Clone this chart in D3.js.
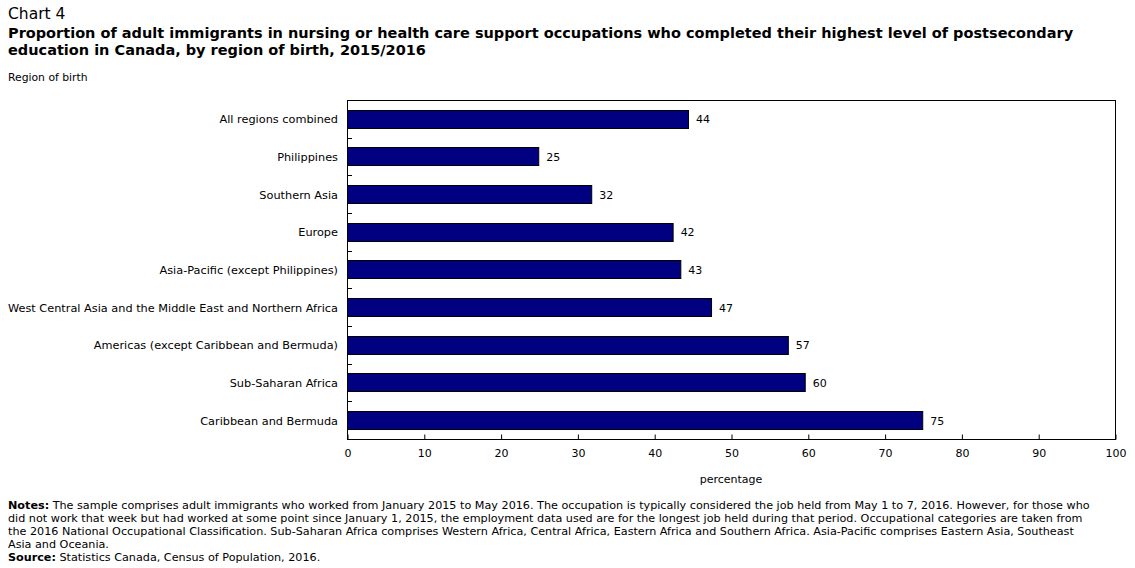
<!DOCTYPE html>
<html>
<head>
<meta charset="utf-8">
<script src="https://cdn.jsdelivr.net/npm/d3@7"></script>
<style>
  body { margin: 0; background: #fff; }
  svg { display: block; font-family: "DejaVu Sans", Verdana, sans-serif; }
</style>
</head>
<body>
<script>
// Chart data
var regions = [
  'All regions combined',
  'Philippines',
  'Southern Asia',
  'Europe',
  'Asia-Pacific (except Philippines)',
  'West Central Asia and the Middle East and Northern Africa',
  'Americas (except Caribbean and Bermuda)',
  'Sub-Saharan Africa',
  'Caribbean and Bermuda'
];
var percents = [44.4, 24.9, 31.8, 42.4, 43.4, 47.4, 57.4, 59.6, 74.9];
var xTicks = [0, 10, 20, 30, 40, 50, 60, 70, 80, 90, 100];

var notesLines = [
  [['Notes:', true], [' The sample comprises adult immigrants who worked from January 2015 to May 2016. The occupation is typically considered the job held from May 1 to 7, 2016. However, for those who', false]],
  [['did not work that week but had worked at some point since January 1, 2015, the employment data used are for the longest job held during that period. Occupational categories are taken from', false]],
  [['the 2016 National Occupational Classification. Sub-Saharan Africa comprises Western Africa, Central Africa, Eastern Africa and Southern Africa. Asia-Pacific comprises Eastern Asia, Southeast', false]],
  [['Asia and Oceania.', false]],
  [['Source:', true], [' Statistics Canada, Census of Population, 2016.', false]]
];

var svgWidth = 1135;
var svgHeight = 568;

var margin = { top: 100, right: 20, bottom: 129, left: 347 };
var chartWidth = svgWidth - margin.left - margin.right;
var chartHeight = svgHeight - margin.top - margin.bottom;

var svg = d3.select('body').append('svg')
  .attr('width', svgWidth)
  .attr('height', svgHeight);

// Titles
svg.append('text')
  .attr('x', 8).attr('y', 19)
  .attr('font-size', 15.5)
  .text('Chart 4');

var titleLines = [
  'Proportion of adult immigrants in nursing or health care support occupations who completed their highest level of postsecondary',
  'education in Canada, by region of birth, 2015/2016'
];
svg.selectAll('text.title')
  .data(titleLines)
  .enter()
  .append('text')
  .attr('class', 'title')
  .attr('x', 8)
  .attr('y', function(d, i) { return 38 + i * 17; })
  .attr('font-size', 14.5)
  .attr('font-weight', 'bold')
  .text(function(d) { return d; });

svg.append('text')
  .attr('x', 8).attr('y', 81)
  .attr('font-size', 10.8)
  .text('Region of birth');

var chart = svg.append('g')
  .attr('transform', `translate(${margin.left}, ${margin.top})`);

var xScale = d3.scaleLinear()
  .domain([0, 100])
  .range([0, chartWidth]);

var yScale = d3.scaleBand()
  .domain(regions)
  .range([0, chartHeight])
  .paddingInner(0.52)
  .paddingOuter(0.26);

// Bars
chart.selectAll('rect.bar')
  .data(percents)
  .enter()
  .append('rect')
  .attr('class', 'bar')
  .attr('x', 0.5)
  .attr('y', function(d, i) { return Math.round(yScale(regions[i])) + 0.5; })
  .attr('width', function(d) { return xScale(d); })
  .attr('height', Math.round(yScale.bandwidth()))
  .attr('fill', '#000080')
  .attr('stroke', '#000')
  .attr('stroke-width', 1);

// Value labels
chart.selectAll('text.value')
  .data(percents)
  .enter()
  .append('text')
  .attr('class', 'value')
  .attr('x', function(d) { return xScale(d) + 8; })
  .attr('y', function(d, i) { return yScale(regions[i]) + yScale.bandwidth() / 2 + 4.5; })
  .attr('font-size', 11)
  .text(function(d) { return Math.round(d); });

// Category boundary ticks on the left axis
chart.selectAll('line.ytick')
  .data(d3.range(1, regions.length + 1))
  .enter()
  .append('line')
  .attr('class', 'ytick')
  .attr('x1', 0).attr('x2', 5)
  .attr('y1', function(i) { return Math.round(i * chartHeight / regions.length) + 0.5; })
  .attr('y2', function(i) { return Math.round(i * chartHeight / regions.length) + 0.5; })
  .attr('stroke', '#000');

// Category labels
chart.selectAll('text.cat')
  .data(regions)
  .enter()
  .append('text')
  .attr('class', 'cat')
  .attr('x', -9)
  .attr('y', function(d) { return yScale(d) + yScale.bandwidth() / 2 + 4.5; })
  .attr('text-anchor', 'end')
  .attr('font-size', 11.3)
  .text(function(d) { return d; });

// X axis with inward ticks
var bottomAxis = d3.axisBottom(xScale)
  .tickValues(xTicks)
  .tickSizeInner(-5)
  .tickSizeOuter(0)
  .tickPadding(10);

var xAxis = chart.append('g')
  .attr('transform', `translate(0.5, ${chartHeight + 0.5})`)
  .call(bottomAxis);
xAxis.select('.domain').remove();
xAxis.selectAll('text')
  .attr('font-size', 11)
  .attr('font-family', '"DejaVu Sans", Verdana, sans-serif')
  .attr('fill', '#000');

// Frame around the plot
chart.append('rect')
  .attr('x', 0.5).attr('y', 0.5)
  .attr('width', chartWidth)
  .attr('height', chartHeight)
  .attr('fill', 'none')
  .attr('stroke', '#000');

// X axis title
chart.append('text')
  .attr('x', chartWidth / 2)
  .attr('y', chartHeight + 44)
  .attr('text-anchor', 'middle')
  .attr('font-size', 11)
  .text('percentage');

// Notes
var notes = svg.append('g');
notesLines.forEach(function(line, i) {
  var t = notes.append('text')
    .attr('x', 8)
    .attr('y', 509 + i * 13)
    .attr('font-size', 11.2);
  line.forEach(function(part) {
    t.append('tspan')
      .attr('font-weight', part[1] ? 'bold' : 'normal')
      .text(part[0]);
  });
});
</script>
</body>
</html>
